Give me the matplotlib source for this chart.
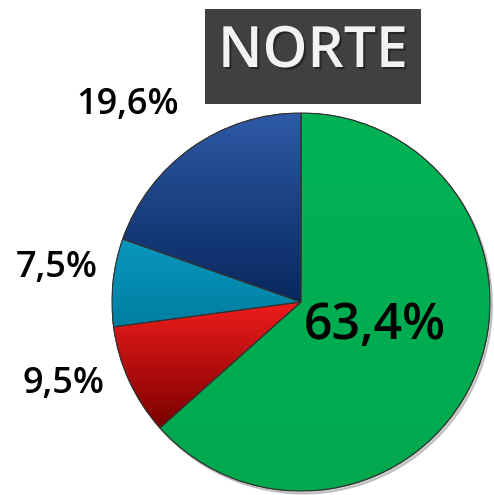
import matplotlib
matplotlib.use("Agg")
import matplotlib.pyplot as plt
import numpy as np
from matplotlib.colors import LinearSegmentedColormap
from matplotlib.patches import Wedge
import matplotlib.patheffects as pe

title = "NORTE"
categories = ["A", "B", "C", "D"]
values = [63.4, 9.5, 7.5, 19.6]
labels = ["63,4%", "9,5%", "7,5%", "19,6%"]
colors = ["#00AE52", "#D40000", "#0088AE", "#153E86"]
grad_top = ["#00B355", "#F01C1C", "#0A97C0", "#2E5AA6"]
grad_bot = ["#00A84E", "#7A0000", "#007EA0", "#08275E"]

W, H = 494, 495
fig = plt.figure(figsize=(W / 100, H / 100), dpi=100)
fig.patch.set_facecolor("white")

cx, cy, r = 301, 302, 189
ax = fig.add_axes([(cx - r) / W, (H - cy - r) / H, 2 * r / W, 2 * r / H])
wedges, _ = ax.pie(values, colors=colors, startangle=90, counterclock=False,
                   radius=1.0, wedgeprops=dict(edgecolor="#333333", linewidth=0.8))
ax.set_aspect("equal")
ax.axis("off")

for w, ct, cb in zip(wedges, grad_top, grad_bot):
    cmap = LinearSegmentedColormap.from_list("g", [cb, ct])
    th1, th2 = w.theta1, w.theta2
    ang = np.radians(np.linspace(th1, th2, 50))
    ys = np.concatenate([[0], np.sin(ang)])
    y0, y1 = ys.min(), ys.max()
    grad = np.linspace(0, 1, 256).reshape(-1, 1)
    im = ax.imshow(grad, cmap=cmap, origin="lower", extent=[-1, 1, y0, y1],
                   aspect="auto", zorder=w.get_zorder() + 0.1)
    im.set_clip_path(w)
    edge = Wedge(w.center, w.r, th1, th2, facecolor="none",
                 edgecolor="#333333", linewidth=0.8, zorder=w.get_zorder() + 0.2)
    ax.add_patch(edge)
ax.set_xlim(-1, 1)
ax.set_ylim(-1, 1)

shadow = plt.Circle((0.012, -0.015), 1.0, color="#999999", alpha=0.5, zorder=0,
                    clip_on=False)
ax.add_patch(shadow)

font = "Open Sans"
fw = "semibold"
fig.text(375 / W, 1 - 326 / H, labels[0], fontsize=36, family=font, weight=fw,
         ha="center", va="center", color="black")
fig.text(63 / W, 1 - 384 / H, labels[1], fontsize=26, family=font, weight=fw,
         ha="center", va="center", color="black")
fig.text(57 / W, 1 - 268 / H, labels[2], fontsize=26, family=font, weight=fw,
         ha="center", va="center", color="black")
fig.text(128 / W, 1 - 105 / H, labels[3], fontsize=26, family=font, weight=fw,
         ha="center", va="center", color="black")

bx0, by0, bx1, by1 = 205, 9, 421, 104
fig.patches.append(plt.Rectangle((bx0 / W, 1 - by1 / H), (bx1 - bx0) / W, (by1 - by0) / H,
                                 transform=fig.transFigure, facecolor="#404040",
                                 edgecolor="none", zorder=5))
fig.text((bx0 + bx1) / 2 / W, 1 - 53 / H, title, fontsize=41, family=font, weight=fw,
         ha="center", va="center", color="#F2F2F2", zorder=6,
         path_effects=[pe.withSimplePatchShadow(offset=(1.5, -1.5),
                                                shadow_rgbFace="#202020", alpha=0.8)])

fig.savefig("out.png", dpi=100, facecolor="white")
